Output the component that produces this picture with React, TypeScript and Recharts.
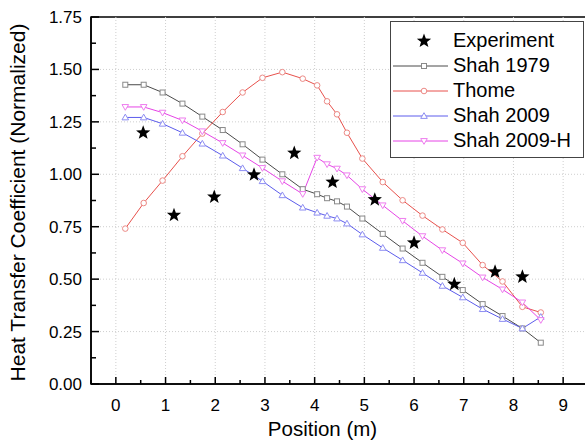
import React from "react";
import {
  ComposedChart,
  Legend,
  Line,
  ReferenceArea,
  ReferenceLine,
  Scatter,
  XAxis,
  YAxis,
} from "recharts";

// model curves share the same positions (m)
const positions = [
  0.19, 0.56, 0.94, 1.34, 1.74, 2.15, 2.55, 2.95, 3.35, 3.76, 4.05, 4.25, 4.45,
  4.65, 4.96, 5.37, 5.77, 6.17, 6.57, 6.98, 7.38, 7.78, 8.18, 8.55,
];
const shah1979 = [
  1.427, 1.427, 1.39, 1.337, 1.275, 1.211, 1.143, 1.07, 1.0, 0.929, 0.905,
  0.886, 0.871, 0.846, 0.789, 0.716, 0.646, 0.578, 0.511, 0.448, 0.381, 0.324,
  0.265, 0.197,
];
const thome = [
  0.741, 0.863, 0.97, 1.086, 1.194, 1.297, 1.39, 1.46, 1.487, 1.456, 1.424,
  1.348, 1.286, 1.198, 1.075, 0.963, 0.876, 0.803, 0.737, 0.673, 0.567, 0.489,
  0.368, 0.341,
];
const shah2009 = [
  1.271, 1.271, 1.241, 1.198, 1.146, 1.089, 1.029, 0.967, 0.9, 0.841, 0.817,
  0.802, 0.789, 0.765, 0.713, 0.649, 0.59, 0.53, 0.468, 0.413, 0.357, 0.31,
  0.265, 0.32,
];
const shah2009H = [
  1.321, 1.321, 1.294, 1.257, 1.205, 1.149, 1.09, 1.03, 0.967, 0.906, 1.079,
  1.048, 1.027, 0.995, 0.929, 0.852, 0.778, 0.705, 0.638, 0.575, 0.508, 0.451,
  0.389, 0.305,
];

const expPositions = [0.55, 1.17, 1.98, 2.78, 3.59, 4.36, 5.21, 6.0, 6.81, 7.63, 8.18];
const expValues = [1.198, 0.805, 0.892, 0.998, 1.101, 0.963, 0.879, 0.673, 0.476, 0.535, 0.511];

const xTicks = [
  -0.5, 0, 0.5, 1, 1.5, 2, 2.5, 3, 3.5, 4, 4.5, 5, 5.5, 6, 6.5, 7, 7.5, 8, 8.5, 9, 9.5,
];
const xGrid = [0, 1, 2, 3, 4, 5, 6, 7, 8, 9];
const yTicks = [
  0, 0.125, 0.25, 0.375, 0.5, 0.625, 0.75, 0.875, 1, 1.125, 1.25, 1.375, 1.5,
  1.625, 1.75,
];
const yGrid = [0.25, 0.5, 0.75, 1, 1.25, 1.5];

const rows = positions.map((x, i) => ({
  x,
  shah1979: shah1979[i],
  thome: thome[i],
  shah2009: shah2009[i],
  shah2009H: shah2009H[i],
}));
const expRows = expPositions.map((x, i) => ({ x, y: expValues[i] }));

const FONT = "'Liberation Sans', Arial, sans-serif";

type Marker = "square" | "circle" | "up" | "down" | "star";

function starPath(cx: number, cy: number, r: number): string {
  const pts: string[] = [];
  for (let k = 0; k < 10; k++) {
    const rad = k % 2 === 0 ? r : r * 0.42;
    const a = -Math.PI / 2 + (k * Math.PI) / 5;
    pts.push(`${cx + rad * Math.cos(a)},${cy + rad * Math.sin(a)}`);
  }
  return "M" + pts.join("L") + "Z";
}

function drawMarker(kind: Marker, cx: number, cy: number, color: string, key?: number) {
  const common = { key, fill: "#fff", stroke: color, strokeWidth: 1 };
  if (kind === "square") return <rect {...common} x={cx - 2.5} y={cy - 2.5} width={5} height={5} />;
  if (kind === "circle") return <circle {...common} cx={cx} cy={cy} r={2.8} />;
  if (kind === "up")
    return <path {...common} d={`M${cx},${cy - 3.3}L${cx + 3.3},${cy + 2.4}L${cx - 3.3},${cy + 2.4}Z`} />;
  if (kind === "down")
    return <path {...common} d={`M${cx},${cy + 3.3}L${cx + 3.3},${cy - 2.4}L${cx - 3.3},${cy - 2.4}Z`} />;
  return <path key={key} d={starPath(cx, cy, 7.5)} fill="#000" />;
}

const series = [
  { key: "shah1979", name: "Shah 1979", line: "#4a4a4a", mark: "#8a8a8a", marker: "square" as Marker },
  { key: "thome", name: "Thome", line: "#e8514c", mark: "#ec8a86", marker: "circle" as Marker },
  { key: "shah2009", name: "Shah 2009", line: "#5c5cec", mark: "#8e8ef2", marker: "up" as Marker },
  { key: "shah2009H", name: "Shah 2009-H", line: "#e644e6", mark: "#ee7cee", marker: "down" as Marker },
];

const XTick = (props: any) => {
  const { x, y, payload } = props;
  const major = Number.isInteger(payload.value);
  return (
    <g>
      <line x1={x} x2={x} y1={y} y2={y - (major ? 7 : 4)} stroke="#000" strokeWidth={1.5} />
      {major && (
        <text x={x} y={y + 27} textAnchor="middle" fontSize={17} fontFamily={FONT} fill="#000">
          {payload.value}
        </text>
      )}
    </g>
  );
};

const YTick = (props: any) => {
  const { x, y, payload } = props;
  const major = Math.round(payload.value * 8) % 2 === 0;
  return (
    <g>
      <line x1={x} x2={x + (major ? 8 : 5)} y1={y} y2={y} stroke="#000" strokeWidth={1.5} />
      {major && (
        <text x={x - 9} y={y + 6} textAnchor="end" fontSize={17} fontFamily={FONT} fill="#000">
          {payload.value.toFixed(2)}
        </text>
      )}
    </g>
  );
};

const LegendBox = () => (
  <div
    style={{
      border: "1px solid #444",
      background: "#fff",
      padding: "6px 0 4px 0",
      fontFamily: FONT,
      fontSize: 20,
      color: "#000",
    }}
  >
    {[{ name: "Experiment", line: "", mark: "#000", marker: "star" as Marker }, ...series].map((s, i) => (
      <div key={i} style={{ display: "flex", alignItems: "center", height: 25 }}>
        <svg width={60} height={20} style={{ marginLeft: 2 }}>
          {s.line && <line x1={0} x2={55} y1={10} y2={10} stroke={s.line} strokeWidth={1} />}
          {drawMarker(s.marker, 31, 10, s.mark)}
        </svg>
        <span>{s.name}</span>
      </div>
    ))}
  </div>
);

export default function App() {
  return (
    <div
      style={{
        position: "absolute",
        left: 0,
        top: 0,
        width: 585,
        height: 442,
        overflow: "hidden",
        background: "#fff",
      }}
    >
      <ComposedChart
        width={600}
        height={442}
        data={rows}
        margin={{ top: 17, right: 12, bottom: 0, left: 0 }}
      >
        {xGrid.map((v) => (
          <ReferenceLine key={`gx${v}`} x={v} stroke="#cfcfcf" strokeDasharray="1 2" />
        ))}
        {yGrid.map((v) => (
          <ReferenceLine key={`gy${v}`} y={v} stroke="#cfcfcf" strokeDasharray="1 2" />
        ))}
        <ReferenceArea x1={-0.5} x2={9.5} y1={0} y2={1.75} fill="none" stroke="#000" strokeWidth={1.5} />
        <XAxis
          dataKey="x"
          type="number"
          domain={[-0.5, 9.5]}
          ticks={xTicks}
          interval={0}
          height={58}
          tickSize={0}
          tickMargin={0}
          tickLine={false}
          tick={<XTick />}
          axisLine={{ stroke: "#000", strokeWidth: 1.5 }}
          allowDataOverflow
          label={{
            value: "Position (m)",
            position: "insideBottom",
            offset: 6,
            dx: -17,
            style: { fontSize: 20.5, fontFamily: FONT, fill: "#000" },
          }}
        />
        <YAxis
          type="number"
          domain={[0, 1.75]}
          ticks={yTicks}
          interval={0}
          width={91}
          tickSize={0}
          tickMargin={0}
          tickLine={false}
          tick={<YTick />}
          axisLine={{ stroke: "#000", strokeWidth: 1.5 }}
          allowDataOverflow
          label={{
            value: "Heat Transfer Coefficient (Normalized)",
            angle: -90,
            position: "insideLeft",
            offset: 18,
            dy: 2,
            style: { fontSize: 21, fontFamily: FONT, fill: "#000", textAnchor: "middle" },
          }}
        />
        {series.map((s) => (
          <Line
            key={s.key}
            dataKey={s.key}
            name={s.name}
            type="linear"
            stroke={s.line}
            strokeWidth={1}
            isAnimationActive={false}
            dot={(p: any) => drawMarker(s.marker, p.cx, p.cy, s.mark, p.index)}
            activeDot={false}
          />
        ))}
        <Scatter
          data={expRows}
          dataKey="y"
          name="Experiment"
          isAnimationActive={false}
          shape={(p: any) => drawMarker("star", p.cx, p.cy, "#000")}
        />
        <Legend
          layout="vertical"
          align="center"
          verticalAlign="middle"
          wrapperStyle={{ position: "absolute", left: 390, top: 21, width: 194 }}
          content={() => <LegendBox />}
        />
      </ComposedChart>
    </div>
  );
}
